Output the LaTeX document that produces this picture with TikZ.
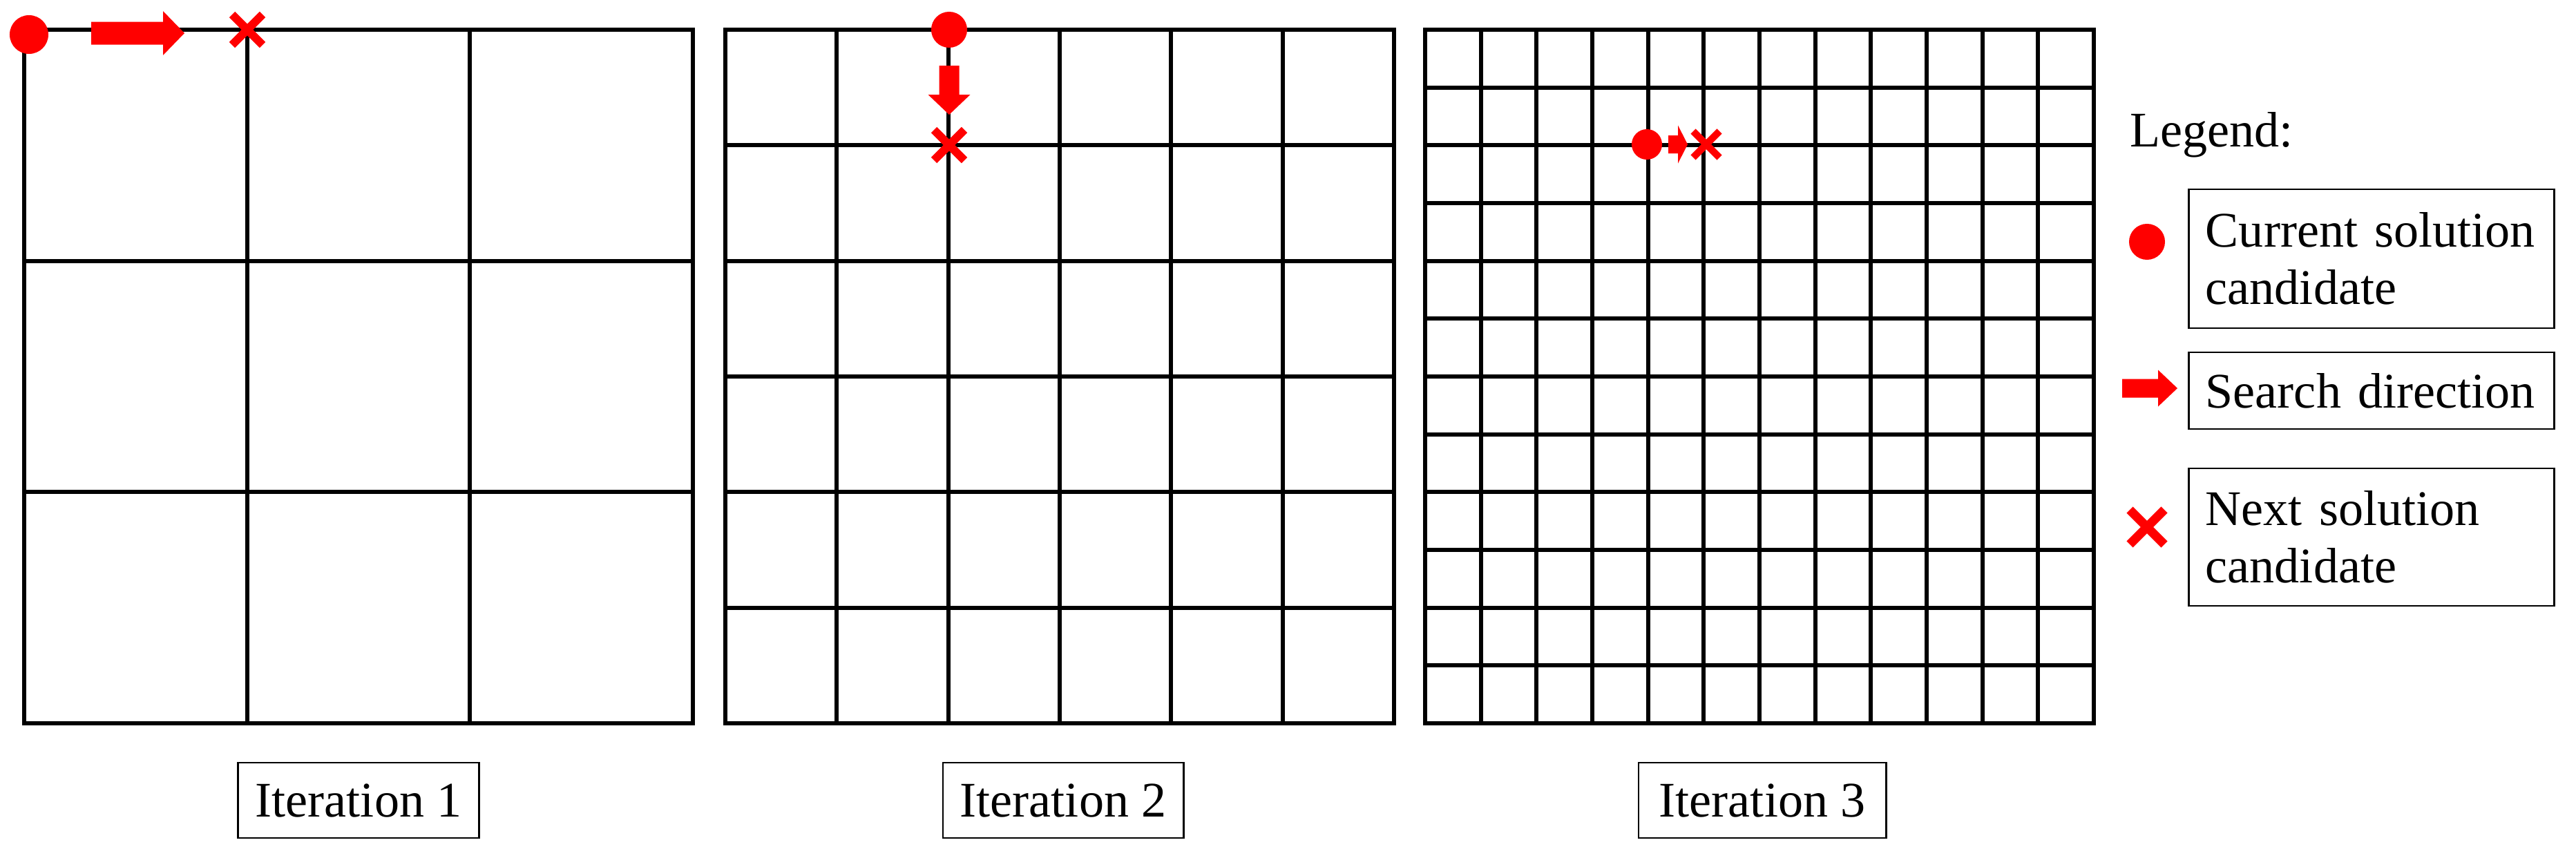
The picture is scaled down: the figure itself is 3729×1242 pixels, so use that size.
\documentclass[tikz,border=0pt]{standalone}
\usepackage{fontspec}
\setmainfont{Liberation Serif}
\tikzset{
  gridline/.style={line width=1.7pt, line cap=rect},
  lbl/.style={draw, line width=0.8pt, font=\fontsize{20.5pt}{23.6pt}\selectfont,
    align=left, inner xsep=0.23cm, inner ysep=0pt, anchor=center},
  itlbl/.style={draw, line width=0.8pt, font=\fontsize{20.5pt}{23.6pt}\selectfont,
    inner sep=0pt, minimum height=1.09cm, anchor=center},
  dotm/.style={circle, fill=red, draw=none, inner sep=0pt, minimum size=#1},
  pics/barrow/.style n args={4}{code={
    \fill[red] (0,-#2) -- (#1,-#2) -- (#1,-#4) -- ({#1+#3},0) -- (#1,#4) -- (#1,#2) -- (0,#2) -- cycle;}},
  pics/xcross/.style 2 args={code={
    \draw[red, line width=#2] (-#1,-#1) -- (#1,#1) (-#1,#1) -- (#1,-#1);}}
}
\begin{document}
\begin{tikzpicture}[x=0.01cm, y=-0.01cm]
\useasboundingbox (0,0) rectangle (3729,1242);
% grids
\foreach \gx/\n in {35/3, 1050/6, 2063/12} {
  \pgfmathtruncatemacro\m{\n-1}
  \draw[gridline] (\gx,43) rectangle ({\gx+968},1047);
  \foreach \i in {1,...,\m} {
    \draw[gridline] ({\gx+\i*968/\n},43) -- ({\gx+\i*968/\n},1047);
    \draw[gridline] (\gx,{43+\i*1004/\n}) -- ({\gx+968},{43+\i*1004/\n});
  }
}
% iteration 1 markers
\node[dotm=0.56cm] (d1) at (42,50) {};
\pic at (132,48) {barrow={104}{16.5}{31}{32}};
\coordinate (x1) at (358,43);
\pic at (x1) {xcross={22}{3.4pt}};
% iteration 2 markers
\node[dotm=0.52cm] (d2) at (1374,43) {};
\pic[rotate=-90] at (1374,95) {barrow={42}{14.5}{29}{30.5}};
\coordinate (x2) at (1374,210);
\pic at (x2) {xcross={22}{3.4pt}};
% iteration 3 markers
\node[dotm=0.44cm] (d3) at (2384,209) {};
\pic at (2415,209) {barrow={14}{13}{14}{27.5}};
\coordinate (x3) at (2470,209);
\pic at (x3) {xcross={19}{2.9pt}};
% iteration labels
\node[itlbl, minimum width=3.48cm] (it1) at (519,1158.5) {Iteration 1};
\node[itlbl, minimum width=3.48cm] (it2) at (1539,1158.5) {Iteration 2};
\node[itlbl, minimum width=3.58cm] (it3) at (2551,1158.5) {Iteration 3};
% legend
\node[anchor=base west, inner sep=0pt, font=\fontsize{20.5pt}{23.6pt}\selectfont] (leg) at (3083,212) {Legend:};
\node[dotm=0.52cm] (ld) at (3108,350) {};
\node[lbl, text width=4.80cm, inner xsep=0.24cm, minimum height=2.01cm] (l1) at (3433,374.5) {Current solution\\candidate};
\pic at (3072,562) {barrow={52}{13.5}{28}{26.5}};
\node[lbl, text width=4.80cm, inner xsep=0.24cm, minimum height=1.11cm] (l2) at (3433,565.5) {Search direction};
\coordinate (lx) at (3108,763);
\pic at (lx) {xcross={25}{3.7pt}};
\node[lbl, text width=4.80cm, inner xsep=0.24cm, minimum height=1.99cm] (l3) at (3433,777.5) {Next solution\\candidate};
\end{tikzpicture}
\end{document}
